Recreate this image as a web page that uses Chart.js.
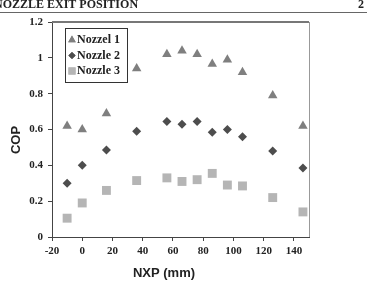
<!DOCTYPE html>
<html>
<head>
<meta charset="utf-8">
<script src="https://cdn.jsdelivr.net/npm/chart.js@4/dist/chart.umd.min.js"></script>
<style>
  html, body { margin: 0; padding: 0; background: #fff; }
  #cv { display: block; }
</style>
</head>
<body>
<canvas id="cv" width="367" height="282"></canvas>
<script>
// nozzle exit position (mm)
var nxp = [-10, 0, 16, 36, 56, 66, 76, 86, 96, 106, 126, 146];
var copNozzle1 = [0.62, 0.60, 0.69, 0.94, 1.02, 1.04, 1.02, 0.965, 0.99, 0.92, 0.79, 0.62];
var copNozzle2 = [0.30, 0.40, 0.485, 0.59, 0.645, 0.63, 0.645, 0.585, 0.60, 0.56, 0.48, 0.385];
var copNozzle3 = [0.105, 0.19, 0.26, 0.315, 0.33, 0.31, 0.32, 0.355, 0.29, 0.285, 0.22, 0.14];
var seriesNames = ['Nozzel 1', 'Nozzle 2', 'Nozzle 3'];
var xTicks = [-20, 0, 20, 40, 60, 80, 100, 120, 140];

function pts(ys) {
  return nxp.map(function (x, i) { return { x: x, y: ys[i] }; });
}

var serif = 'Liberation Serif';
var sans = 'Liberation Sans';

var pageDecor = {
  id: 'pageDecor',
  afterDraw: function (chart) {
    var ctx = chart.ctx, a = chart.chartArea;
    ctx.save();
    // running header
    ctx.fillStyle = '#222';
    ctx.font = 'bold 12px "' + serif + '"';
    ctx.textBaseline = 'alphabetic';
    ctx.textAlign = 'left';
    ctx.fillText('NOZZLE EXIT POSITION', -6, 8);
    ctx.fillText('2', 358, 8);
    ctx.strokeStyle = '#666';
    ctx.lineWidth = 1;
    ctx.beginPath();
    ctx.moveTo(0, 12.5);
    ctx.lineTo(367, 12.5);
    ctx.stroke();

    // frame top / right
    ctx.strokeStyle = '#777';
    ctx.lineWidth = 2;
    ctx.beginPath();
    ctx.moveTo(a.left, a.top);
    ctx.lineTo(a.right, a.top);
    ctx.stroke();
    ctx.lineWidth = 1;
    ctx.strokeStyle = '#999';
    ctx.beginPath();
    ctx.moveTo(a.right + 0.5, a.top);
    ctx.lineTo(a.right + 0.5, a.bottom);
    ctx.stroke();

    // axis titles
    ctx.fillStyle = '#222';
    ctx.font = 'bold 13px "' + sans + '"';
    ctx.textAlign = 'center';
    ctx.textBaseline = 'middle';
    ctx.fillText('NXP (mm)', 164, 273);
    ctx.translate(16, 140);
    ctx.rotate(-Math.PI / 2);
    ctx.fillText('COP', 0, 0);
    ctx.restore();

    // legend box
    ctx.save();
    ctx.strokeStyle = '#333';
    ctx.lineWidth = 1;
    ctx.strokeRect(65.5, 28.5, 62, 54);
    ctx.font = 'bold 12px "' + serif + '"';
    ctx.textAlign = 'left';
    ctx.textBaseline = 'middle';
    chart.data.datasets.forEach(function (ds, i) {
      var y = 40 + i * 15.5;
      ctx.fillStyle = ds.backgroundColor;
      Chart.helpers.drawPoint(ctx, {
        pointStyle: ds.pointStyle,
        radius: ds.pointRadius * 0.8,
        rotation: 0,
        borderWidth: 0
      }, 72, y);
      ctx.fill();
      ctx.fillStyle = '#222';
      ctx.fillText(ds.label, 77, y);
    });
    ctx.restore();
  }
};

function yLabel(v) {
  return String(Number(v.toFixed(1)));
}

new Chart(document.getElementById('cv').getContext('2d'), {
  type: 'scatter',
  data: {
    datasets: [
      {
        label: seriesNames[0],
        data: pts(copNozzle1),
        pointStyle: 'triangle',
        pointRadius: 5.5,
        backgroundColor: '#7f7f7f',
        borderColor: '#7f7f7f',
        borderWidth: 0
      },
      {
        label: seriesNames[1],
        data: pts(copNozzle2),
        pointStyle: 'rectRot',
        pointRadius: 4.5,
        backgroundColor: '#4d4d4d',
        borderColor: '#4d4d4d',
        borderWidth: 0
      },
      {
        label: seriesNames[2],
        data: pts(copNozzle3),
        pointStyle: 'rect',
        pointRadius: 6.3,
        backgroundColor: '#b5b5b5',
        borderColor: '#b5b5b5',
        borderWidth: 0
      }
    ]
  },
  options: {
    responsive: false,
    animation: false,
    devicePixelRatio: 1,
    layout: { padding: { left: 0, right: 58, top: 22, bottom: 0 } },
    plugins: {
      legend: { display: false },
      tooltip: { enabled: false }
    },
    scales: {
      x: {
        type: 'linear',
        min: -20,
        max: 150,
        afterBuildTicks: function (scale) {
          scale.ticks = xTicks.map(function (v) { return { value: v }; });
        },
        afterFit: function (scale) { scale.height = 45; },
        ticks: {
          autoSkip: false,
          color: '#222',
          padding: 4,
          maxRotation: 0,
          font: { family: serif, size: 11, weight: 'bold' }
        },
        grid: { drawOnChartArea: false, tickLength: 4, color: '#444' },
        border: { color: '#444', width: 1 }
      },
      y: {
        min: 0,
        max: 1.2,
        afterFit: function (scale) { scale.width = 52; },
        ticks: {
          stepSize: 0.2,
          color: '#222',
          padding: 5,
          callback: yLabel,
          font: { family: serif, size: 11, weight: 'bold' }
        },
        grid: { drawOnChartArea: false, tickLength: 4, color: '#444' },
        border: { color: '#444', width: 1 }
      }
    }
  },
  plugins: [pageDecor]
});
</script>
</body>
</html>
